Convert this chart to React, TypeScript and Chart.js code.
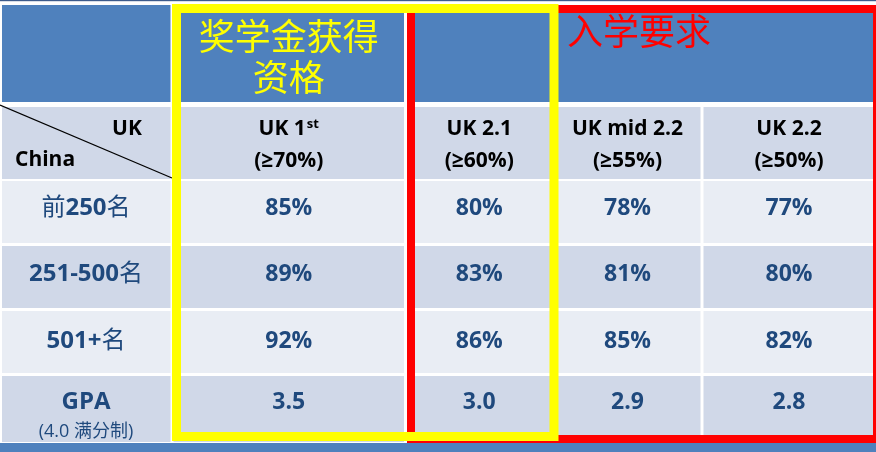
import React, { useEffect, useRef } from "react";
import { Chart, registerables } from "chart.js";

Chart.register(...registerables);

// ---------- data ----------
const groupTitles = ["奖学金获得资格", "入学要求"];
const cornerLabels = ["UK", "China"];
const columnHeaders = ["UK 1st", "UK 2.1", "UK mid 2.2", "UK 2.2"];
const columnThresholds = ["(≥70%)", "(≥60%)", "(≥55%)", "(≥50%)"];
const rowCategories = ["前250名", "251-500名", "501+名", "GPA"];
const gpaNote = "(4.0 满分制)";
const top250 = [85, 80, 78, 77];
const rank251to500 = [89, 83, 81, 80];
const rank501plus = [92, 86, 85, 82];
const gpaRequired = [3.5, 3.0, 2.9, 2.8];

// ---------- layout (scale units) ----------
const W = 876;
const H = 452;
const colEdges = [0, 172, 405.5, 553, 702, 876];
const rowBands: [number, number][] = [
  [5, 102],
  [107, 179],
  [181, 243],
  [246, 308],
  [311, 373],
  [376, 442],
];
const dataBaselines = [215, 281, 348, 409];
const COLORS = {
  header: "#4F81BD",
  dark: "#D0D8E8",
  light: "#E9EDF4",
  text: "#1F497D",
  black: "#000000",
  yellow: "#FFFF00",
  red: "#FF0000",
  strip: "#3D5B8C",
  white: "#FFFFFF",
};
const LATIN = "'Open Sans', 'Liberation Sans', sans-serif";
const CJK = "'Noto Sans CJK SC', 'Noto Sans CJK JP', sans-serif";

const CJK_RE = /[\u3400-\u9fff]/;

function splitRuns(text: string): string[] {
  return text.match(/[\u3400-\u9fff]+|[^\u3400-\u9fff]+/g) || [];
}

function drawMixed(
  ctx: CanvasRenderingContext2D,
  text: string,
  cx: number,
  baseline: number,
  latinFont: string,
  cjkFont: string,
  color: string
) {
  const parts = splitRuns(text).map((t) => ({
    t,
    f: CJK_RE.test(t) ? cjkFont : latinFont,
    w: 0,
  }));
  let total = 0;
  parts.forEach((p) => {
    ctx.font = p.f;
    p.w = ctx.measureText(p.t).width;
    total += p.w;
  });
  let xx = cx - total / 2;
  ctx.fillStyle = color;
  ctx.textAlign = "left";
  ctx.textBaseline = "alphabetic";
  parts.forEach((p) => {
    ctx.font = p.f;
    ctx.fillText(p.t, xx, baseline);
    xx += p.w;
  });
}

function wrapChars(ctx: CanvasRenderingContext2D, text: string, maxW: number): string[] {
  const lines: string[] = [];
  let cur = "";
  for (const ch of Array.from(text)) {
    if (cur && ctx.measureText(cur + ch).width > maxW) {
      lines.push(cur);
      cur = ch;
    } else cur += ch;
  }
  if (cur) lines.push(cur);
  return lines;
}

const tablePlugin = {
  id: "ukChinaTable",
  afterDraw(chart: any) {
    const ctx: CanvasRenderingContext2D = chart.ctx;
    const xs = chart.scales.x;
    const ys = chart.scales.y;
    const px = (v: number) => xs.getPixelForValue(v);
    const py = (v: number) => ys.getPixelForValue(v);
    const fill = (x0: number, y0: number, x1: number, y1: number, c: string) => {
      ctx.fillStyle = c;
      ctx.fillRect(px(x0), py(y0), px(x1) - px(x0), py(y1) - py(y0));
    };
    const gap = 1.5;
    const left = (i: number) => (i === 0 ? 2 : colEdges[i] + gap);
    const right = (i: number) => (i === colEdges.length - 2 ? 873 : colEdges[i + 1] - gap);
    const center = (i: number) => (colEdges[i] + colEdges[i + 1]) / 2;

    ctx.save();
    fill(0, 0, W, H, COLORS.white);
    // top strip
    fill(0, 0, W, 1.2, COLORS.strip);

    // header row (merged cells)
    const [h0, h1] = rowBands[0];
    fill(left(0), h0, colEdges[1] - gap, h1, COLORS.header);
    fill(left(1), h0, right(1), h1, COLORS.header);
    fill(left(2), h0, right(4), h1, COLORS.header);

    // other rows
    for (let r = 1; r < rowBands.length; r++) {
      const [t, b] = rowBands[r];
      const c = r % 2 === 1 ? COLORS.dark : COLORS.light;
      for (let ci = 0; ci < colEdges.length - 1; ci++) {
        fill(left(ci), t, right(ci), b, c);
      }
    }
    // bottom band
    fill(0, 443, W, H, COLORS.header);

    // diagonal in corner cell
    ctx.strokeStyle = COLORS.black;
    ctx.lineWidth = 1.2;
    ctx.beginPath();
    ctx.moveTo(px(0), py(105));
    ctx.lineTo(px(172), py(178));
    ctx.stroke();

    // corner labels
    ctx.fillStyle = COLORS.black;
    ctx.font = `bold 21px ${LATIN}`;
    ctx.textBaseline = "alphabetic";
    ctx.textAlign = "center";
    ctx.fillText(cornerLabels[0], px(127), py(135));
    ctx.textAlign = "left";
    ctx.fillText(cornerLabels[1], px(15), py(166));

    // column headers
    columnHeaders.forEach((hd, i) => {
      const cx = px(center(i + 1));
      const m = hd.match(/^(.*\d)(st|nd|rd|th)$/);
      ctx.fillStyle = COLORS.black;
      ctx.textBaseline = "alphabetic";
      if (m) {
        ctx.font = `bold 21px ${LATIN}`;
        const w1 = ctx.measureText(m[1]).width;
        ctx.font = `bold 13px ${LATIN}`;
        const w2 = ctx.measureText(m[2]).width;
        const x0 = cx - (w1 + w2 + 1) / 2;
        ctx.textAlign = "left";
        ctx.font = `bold 21px ${LATIN}`;
        ctx.fillText(m[1], x0, py(135));
        ctx.font = `bold 13px ${LATIN}`;
        ctx.fillText(m[2], x0 + w1 + 1, py(128));
      } else {
        ctx.textAlign = "center";
        ctx.font = `bold 21px ${LATIN}`;
        ctx.fillText(hd, cx, py(135));
      }
      ctx.textAlign = "center";
      ctx.font = `bold 21px ${LATIN}`;
      ctx.fillText(columnThresholds[i], cx, py(167));
    });

    // row categories
    rowCategories.forEach((lab, r) => {
      drawMixed(
        ctx,
        lab,
        px(center(0)),
        py(dataBaselines[r]),
        `bold 24px ${LATIN}`,
        `normal 24px ${CJK}`,
        COLORS.text
      );
    });
    drawMixed(ctx, gpaNote, px(center(0)), py(437), `normal 18px ${LATIN}`, `normal 18px ${CJK}`, COLORS.text);

    // values
    const rows = [top250, rank251to500, rank501plus, gpaRequired];
    rows.forEach((vals, r) => {
      vals.forEach((v, ci) => {
        const txt = r < 3 ? `${v}%` : v.toFixed(1);
        ctx.fillStyle = COLORS.text;
        ctx.font = `bold 23px ${LATIN}`;
        ctx.textAlign = "center";
        ctx.textBaseline = "alphabetic";
        ctx.fillText(txt, px(center(ci + 1)), py(dataBaselines[r]));
      });
    });

    // group outlines: red first, yellow on top
    ctx.lineJoin = "miter";
    ctx.strokeStyle = COLORS.red;
    ctx.lineWidth = 8;
    ctx.strokeRect(px(411), py(9), px(877) - px(411), py(439) - py(9));
    ctx.strokeStyle = COLORS.yellow;
    ctx.lineWidth = 9;
    ctx.strokeRect(px(176.5), py(8.5), px(554) - px(176.5), py(436.5) - py(8.5));

    // group titles
    ctx.textBaseline = "middle";
    ctx.textAlign = "center";
    ctx.font = `normal 36px ${CJK}`;
    ctx.fillStyle = COLORS.yellow;
    const tl = wrapChars(ctx, groupTitles[0], colEdges[2] - colEdges[1] - 30);
    tl.forEach((line, i) => ctx.fillText(line, px(center(1)), py(36 + i * 41)));
    ctx.fillStyle = COLORS.red;
    ctx.textAlign = "left";
    ctx.fillText(groupTitles[1], px(567), py(31));

    ctx.restore();
  },
};

export default function App() {
  const ref = useRef<HTMLCanvasElement | null>(null);
  useEffect(() => {
    document.body.style.margin = "0";
    if (!ref.current) return;
    const chart = new Chart(ref.current, {
      type: "scatter",
      data: { datasets: [] },
      options: {
        responsive: false,
        animation: false,
        layout: { padding: 0 },
        plugins: { legend: { display: false }, tooltip: { enabled: false } },
        scales: {
          x: { type: "linear", min: 0, max: W, display: false },
          y: { type: "linear", min: 0, max: H, reverse: true, display: false },
        },
      },
      plugins: [tablePlugin],
    } as any);
    return () => chart.destroy();
  }, []);
  return (
    <div style={{ width: W, height: H }}>
      <canvas ref={ref} width={W} height={H} style={{ display: "block" }} />
    </div>
  );
}
